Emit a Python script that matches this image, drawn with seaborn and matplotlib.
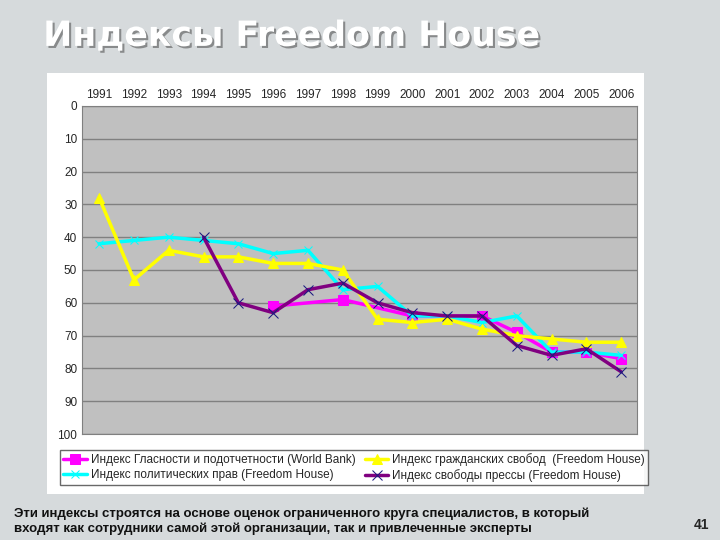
import matplotlib
matplotlib.use("Agg")
import matplotlib.pyplot as plt
import matplotlib.patheffects as pe
import seaborn as sns

years = list(range(1991, 2007))
wb_years = [1996, 1998, 2000, 2002, 2003, 2004, 2005, 2006]
wb = [61, 59, 64, 64, 69, 75, 75, 77]
civil = [28, 53, 44, 46, 46, 48, 48, 50, 65, 66, 65, 68, 70, 71, 72, 72]
political = [42, 41, 40, 41, 42, 45, 44, 56, 55, 64, 64, 66, 64, 75, 75, 76]
press_years = list(range(1994, 2007))
press = [40, 60, 63, 56, 54, 60, 63, 64, 64, 73, 76, 74, 81]

sns.set_style("white")
plt.rcParams['font.family'] = ['Liberation Sans', 'DejaVu Sans']

fig = plt.figure(figsize=(7.2, 5.4), dpi=100)
fig.patch.set_facecolor("#d6dadc")
fig.text(0.06, 0.915, "Индексы Freedom House", fontsize=25, fontweight="bold", color="white",
         family=['DejaVu Sans'],
         path_effects=[pe.withSimplePatchShadow(offset=(1.5, -1.5), shadow_rgbFace="#555555", alpha=0.6)])
panel = fig.add_axes([0.065, 0.085, 0.83, 0.78])
panel.set_facecolor("white"); panel.set_xticks([]); panel.set_yticks([])
for s in panel.spines.values(): s.set_visible(False)

ax = fig.add_axes([0.114, 0.196, 0.771, 0.608])
ax.set_facecolor("#c0c0c0")
sns.lineplot(x=wb_years, y=wb, ax=ax, color="#ff00ff", marker="s", markersize=7, lw=2.5,
             markeredgecolor="#ff00ff", label="Индекс Гласности и подотчетности (World Bank)")
sns.lineplot(x=years, y=political, ax=ax, color="#00ffff", marker="x", markersize=6, lw=2.5,
             markeredgecolor="#00ffff", label="Индекс политических прав (Freedom House)")
sns.lineplot(x=years, y=civil, ax=ax, color="#ffff00", marker="^", markersize=7, lw=2.5,
             markeredgecolor="#ffff00", label="Индекс гражданских свобод  (Freedom House)")
sns.lineplot(x=press_years, y=press, ax=ax, color="#800080", marker="x", markersize=7, lw=2.5,
             markeredgecolor="#1a1a80", label="Индекс свободы прессы (Freedom House)")
ax.set_ylim(100, 0)
ax.set_xlim(1990.51, 2006.46)
ax.set_yticks(range(0, 101, 10))
ax.set_xticks(years)
ax.xaxis.tick_top()
ax.tick_params(labelsize=8.5, length=0)
ax.grid(axis="y", color="#808080", lw=1)
for s in ax.spines.values(): s.set_color("#808080")
ax.legend(loc="upper center", bbox_to_anchor=(0.49, -0.03), ncol=2, fontsize=8.5,
          frameon=True, fancybox=False, edgecolor="#444444", borderpad=0.3,
          columnspacing=0.8, handletextpad=0.3, labelspacing=0.2)

fig.text(0.02, 0.015, "Эти индексы строятся на основе оценок ограниченного круга специалистов, в который\nвходят как сотрудники самой этой организации, так и привлеченные эксперты",
         fontsize=9.5, fontweight="bold", color="#111111", linespacing=1.3)
fig.text(0.985, 0.02, "41", fontsize=10, fontweight="bold", ha="right")
fig.savefig("out.png", dpi=100, facecolor=fig.get_facecolor())
